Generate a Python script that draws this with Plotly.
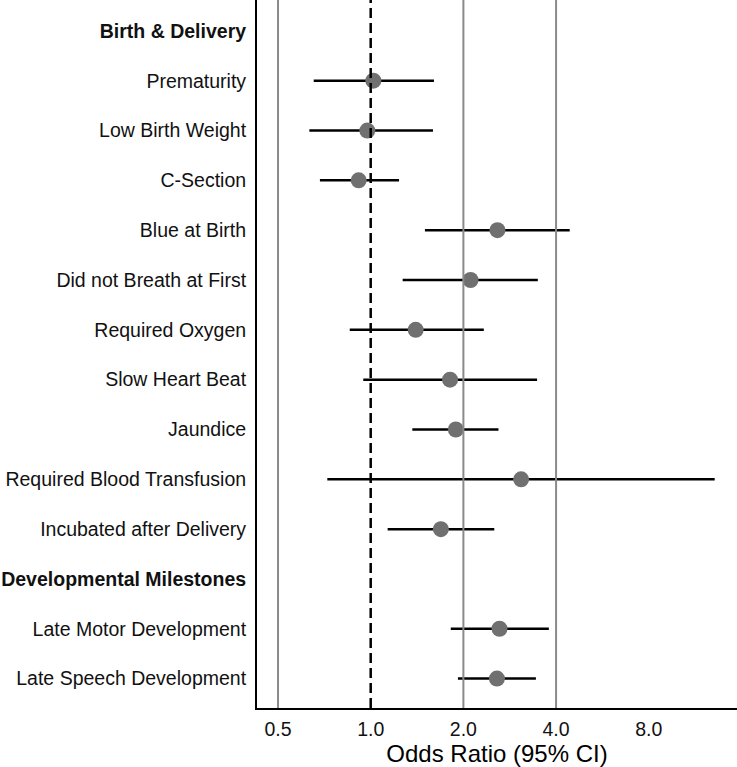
import plotly.graph_objects as go

# Row labels (top to bottom), headers in bold
row_labels = [
    "Birth & Delivery",
    "Prematurity",
    "Low Birth Weight",
    "C-Section",
    "Blue at Birth",
    "Did not Breath at First",
    "Required Oxygen",
    "Slow Heart Beat",
    "Jaundice",
    "Required Blood Transfusion",
    "Incubated after Delivery",
    "Developmental Milestones",
    "Late Motor Development",
    "Late Speech Development",
]
header_labels = ["Birth & Delivery", "Developmental Milestones"]

items = [
    "Prematurity",
    "Low Birth Weight",
    "C-Section",
    "Blue at Birth",
    "Did not Breath at First",
    "Required Oxygen",
    "Slow Heart Beat",
    "Jaundice",
    "Required Blood Transfusion",
    "Incubated after Delivery",
    "Late Motor Development",
    "Late Speech Development",
]
odds_ratio = [1.02, 0.975, 0.914, 2.58, 2.11, 1.40, 1.81, 1.89, 3.08, 1.69, 2.62, 2.57]
ci_lower = [0.653, 0.632, 0.684, 1.50, 1.27, 0.855, 0.946, 1.365, 0.723, 1.135, 1.82, 1.92]
ci_upper = [1.605, 1.593, 1.236, 4.43, 3.49, 2.33, 3.47, 2.60, 13.1, 2.52, 3.79, 3.44]

x_tickvals = [0.5, 1.0, 2.0, 4.0, 8.0]
x_ticktext = ["0.5", "1.0", "2.0", "4.0", "8.0"]
gray_refs = [0.5, 2.0, 4.0]
null_ref = 1.0

y_pos = [row_labels.index(it) for it in items]
err_plus = [u - o for u, o in zip(ci_upper, odds_ratio)]
err_minus = [o - l for o, l in zip(odds_ratio, ci_lower)]
tick_text = [f"<b>{t}</b>" if t in header_labels else t for t in row_labels]

FONT = "Liberation Sans, Arial, sans-serif"

fig = go.Figure()
fig.add_trace(go.Scatter(
    x=odds_ratio, y=y_pos, mode="markers",
    marker=dict(size=16, color="#707070", line=dict(width=0)),
    error_x=dict(type="data", symmetric=False, array=err_plus, arrayminus=err_minus,
                 color="black", thickness=2.5, width=0),
    showlegend=False, hoverinfo="skip",
))

shapes = []
for g in gray_refs:
    shapes.append(dict(type="line", xref="x", yref="paper", x0=g, x1=g, y0=0, y1=1,
                       line=dict(color="#8a8a8a", width=2), layer="above"))
shapes.append(dict(type="line", xref="x", yref="paper", x0=null_ref, x1=null_ref, y0=0, y1=1,
                   line=dict(color="black", width=2.5, dash="10px,5px"), layer="above"))

fig.update_layout(
    width=737, height=767, autosize=False,
    margin=dict(l=257, r=0, t=0, b=59, pad=0),
    paper_bgcolor="white", plot_bgcolor="white",
    font=dict(family=FONT, size=19.5, color="#111111"),
    shapes=shapes,
    xaxis=dict(
        type="log", range=[-0.3693, 1.1897],
        tickvals=x_tickvals, ticktext=x_ticktext,
        showgrid=False, zeroline=False, ticks="",
        showline=True, linecolor="black", linewidth=2,
        tickfont=dict(size=19.5, family=FONT, color="#111111"),
        ticklabelstandoff=3,
        title=dict(text="Odds Ratio (95% CI)", font=dict(size=24, family=FONT, color="black"), standoff=2),
    ),
    yaxis=dict(
        range=[13.59, -0.62],
        tickvals=list(range(len(row_labels))), ticktext=tick_text,
        showgrid=False, zeroline=False, ticks="",
        showline=True, linecolor="black", linewidth=2,
        tickfont=dict(size=19.5, family=FONT, color="#111111"),
        ticklabelstandoff=5,
    ),
)

fig.write_html("out.html", config={"displayModeBar": False},
               post_script="document.body.style.margin='0px';")
